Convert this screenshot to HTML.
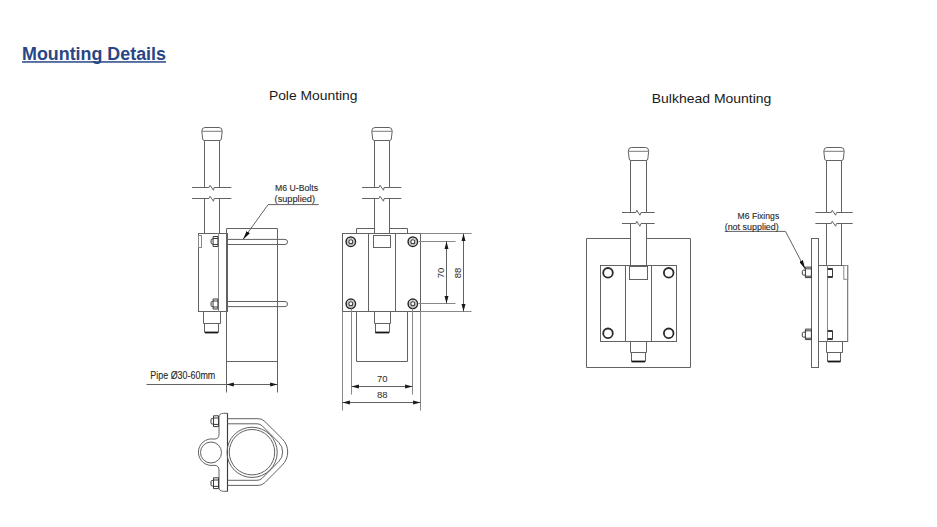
<!DOCTYPE html>
<html><head><meta charset="utf-8">
<style>
html,body{margin:0;padding:0;background:#fff;width:937px;height:527px;overflow:hidden}
svg{display:block}
.l{stroke:#626262;stroke-width:1;fill:none}
.d{stroke:#3a3a3a;stroke-width:1.15;fill:none}
.lt{stroke:#888;stroke-width:1;fill:none}
.t{font-family:"Liberation Sans",sans-serif;fill:#333}
.s{fill:#2a2a2a;stroke:#2a2a2a;stroke-width:0.12}
.dg{fill:#2a2a2a}
</style></head><body>
<svg width="937" height="527" viewBox="0 0 937 527">
<defs>
  <!-- cap centered at x=0, top y=0 -->
  <g id="cap">
    <path class="l" d="M-7.2,0 L7.2,0 Q10.2,0 10.2,3.8 L9.3,11.5 Q9.1,13 7.5,13 L-7.5,13 Q-9.1,13 -9.3,11.5 L-10.2,3.8 Q-10.2,0 -7.2,0 Z"/>
    <line x1="-10.1" y1="3.8" x2="10.1" y2="3.8" stroke="#7a7a7a" stroke-width="1"/>
  </g>
  <g id="brk1">
    <path class="l" d="M-19.9,0 L-3.1,0 L-2,-2.2 L1.5,2.7 L2.1,0 L19.4,0"/>
  </g>
  <g id="brk3">
    <path class="l" d="M-18.6,0 L-2.7,0 L-1.8,-2.2 L1.6,2.7 L2.5,0 L18.7,0"/>
  </g>
  <g id="brk2">
    <path class="l" d="M-16.5,0 L-2.6,0 L-1.7,-2.2 L1.4,2.7 L2.5,0 L16.2,0"/>
  </g>
  <marker id="ah" viewBox="0 0 9 4" refX="9" refY="2" markerWidth="9" markerHeight="4" orient="auto" markerUnits="userSpaceOnUse">
    <path d="M0,0 L9,2 L0,4 Z" fill="#111"/>
  </marker>
</defs>

<!-- Title -->
<text x="22" y="60" class="t" style="font-weight:bold;fill:#284685;font-size:17.6px" textLength="144" lengthAdjust="spacingAndGlyphs">Mounting Details</text>
<rect x="22" y="61.2" width="144" height="1.5" fill="#284685"/>

<text x="268.9" y="99.6" class="t" style="font-size:13.2px;fill:#1a1a1a" textLength="88.6" lengthAdjust="spacingAndGlyphs">Pole Mounting</text>
<text x="651.8" y="103.2" class="t" style="font-size:13.2px;fill:#1a1a1a" textLength="119.5" lengthAdjust="spacingAndGlyphs">Bulkhead Mounting</text>

<!-- ============ POLE SIDE VIEW ============ -->
<use href="#cap" x="212" y="127.5"/>
<path class="l" d="M204.5,140.5 V187.5 M219.5,140.5 V187.5 M204.5,198.5 V233.5 M219.5,198.5 V233.5"/>
<use href="#brk1" x="212" y="187.5"/>
<use href="#brk1" x="212" y="198.5"/>
<!-- pipe -->
<path class="l" d="M226.5,228.5 H277.5 V392.5 M226.5,228.5 V392.5 M226.5,361.5 H277.5"/>
<!-- bracket -->
<rect class="l" x="198.5" y="233.5" width="29" height="78"/>
<line class="lt" x1="218.5" y1="233.3" x2="218.5" y2="311.7"/>
<rect class="l" x="198.5" y="235.5" width="3" height="12" style="stroke:#8a8a8a"/>
<!-- nuts -->
<g id="nutS">
<path class="l" style="stroke:#3a3a3a" d="M213.1,236.5 H217.9 V246.5 H213.1 Z M213.1,238.5 H217.9 M213.1,244.5 H217.9 M213.1,239 H212.3 Q211.1,239 211.1,240.2 V242.8 Q211.1,244 212.3,244 H213.1"/>
</g>
<use href="#nutS" x="0" y="62.5"/>
<!-- u-bolts -->
<path class="l" d="M227,239.4 H285 A2.55,2.55 0 0 1 285,244.5 H227"/>
<path class="l" d="M227,301.5 H285 A2.55,2.55 0 0 1 285,306.6 H227"/>
<!-- connector -->
<path class="l" d="M203.5,311.5 V323.5 H220.5 V311.5 M204.5,323.5 V332.5 H218.5 V323.5"/>
<line class="d" x1="205" y1="332.5" x2="218" y2="332.5" style="stroke-width:1.8;stroke:#151515"/>
<!-- leader -->
<path class="l" d="M318.7,204.6 H268.1 L243,239.4" marker-end="url(#ah)"/>
<text x="275" y="191.2" class="t s" style="font-size:9.6px" textLength="43" lengthAdjust="spacingAndGlyphs">M6 U-Bolts</text>
<text x="274.6" y="201.6" class="t s" style="font-size:9px" textLength="40.4" lengthAdjust="spacingAndGlyphs">(supplied)</text>
<!-- pipe dim -->
<path class="l" d="M146.5,384.5 H277.5"/>
<path d="M226.5,384.5 L233.9,382.5 L233.9,386.5 Z M277.5,384.5 L270.1,382.5 L270.1,386.5 Z" fill="#1a1a1a"/>
<text x="150.3" y="379" class="t s" style="font-size:10px" textLength="65" lengthAdjust="spacingAndGlyphs">Pipe Ø30-60mm</text>

<!-- clamp top view -->
<path class="l" d="M227.4,413.3 H223.5 Q219,413.3 219,417.5 V434.5 Q219,439.1 214,439.1 A13.3,13.3 0 1 0 214,465.3 Q219,465.3 219,470 V487 Q219,491.3 223.5,491.3 H227.4"/>
<line class="d" x1="227.5" y1="413.2" x2="227.5" y2="491.5"/>
<circle class="l" cx="211" cy="452.5" r="10.5"/>
<circle class="l" cx="252.1" cy="452.35" r="25.1"/>
<circle class="l" cx="252" cy="452.2" r="22.7"/>
<path class="l" d="M227.4,418.7 H258.1 Q262.1,418.7 264.9,421.5 L282.25,438.85 A18.6,18.6 0 0 1 282.25,465.15 L264.9,482.6 Q262.1,485.4 258.1,485.4 H227.4"/>
<path class="l" d="M227.4,423.8 H257.1 Q260.1,423.8 262.25,425.9 L278.7,442.4 A13.6,13.6 0 0 1 278.7,461.6 L262.25,478.2 Q260.1,480.3 257.1,480.3 H227.4"/>
<g id="nutT">
<path class="l" style="stroke:#3a3a3a" d="M213.5,415.8 H218.5 V426.6 H213.5 Z M213.5,418 H218.5 M213.5,424.4 H218.5 M213.5,418.5 H212.2 Q211,418.5 211,419.7 V422.8 Q211,424 212.2,424 H213.5"/>
</g>
<use href="#nutT" x="0" y="62"/>

<!-- ============ POLE FRONT VIEW ============ -->
<use href="#cap" x="382" y="127.5"/>
<path class="l" d="M374.5,140.5 V187.5 M389.5,140.5 V187.5 M374.5,198.5 V233.5 M389.5,198.5 V233.5"/>
<use href="#brk1" x="382" y="187.5"/>
<use href="#brk1" x="382" y="198.5"/>
<path class="l" d="M356.5,233.5 V228.5 H374.5 M389.5,228.5 H407.5 V233.5"/>
<rect class="l" x="342.5" y="233.5" width="78" height="78"/>
<path class="l" d="M368.5,233.5 V311.5 M395.5,233.5 V311.5"/>
<rect class="l" x="373.5" y="235.5" width="17" height="12"/>
<g id="boltF">
<circle cx="350.8" cy="241.7" r="4.7" fill="none" stroke="#2a2a2a" stroke-width="1.5"/>
<circle cx="350.8" cy="241.7" r="3.4" fill="none" stroke="#aaa" stroke-width="0.8"/>
<circle cx="350.8" cy="241.7" r="2.0" fill="none" stroke="#3a3a3a" stroke-width="1.1"/>
</g>
<use href="#boltF" x="62" y="0"/>
<use href="#boltF" x="0" y="62.1"/>
<use href="#boltF" x="62" y="62.1"/>
<path class="l" d="M374.5,311.5 V323.5 H390.5 V311.5 M375.5,323.5 V332.5 H389.5 V323.5"/>
<line class="d" x1="375.3" y1="332.5" x2="389" y2="332.5" style="stroke-width:1.8;stroke:#151515"/>
<path class="l" d="M356.5,311.5 V361.5 H407.5 V311.5"/>
<!-- ext lines -->
<path class="lt" d="M342.5,311.5 V410.5 M420.5,311.5 V410.5 M351.5,308.5 V394.5 M412.5,308.5 V394.5"/>
<path class="l" d="M351.5,386.5 H412.5 M342.5,402.5 H420.5"/>
<path d="M351.5,386.5 L358.9,384.5 L358.9,388.5 Z M412.5,386.5 L405.1,384.5 L405.1,388.5 Z M342.5,402.5 L349.9,400.5 L349.9,404.5 Z M420.5,402.5 L413.1,400.5 L413.1,404.5 Z" fill="#1a1a1a"/>
<text x="382.2" y="382.3" class="t dg" text-anchor="middle" style="font-size:9.5px">70</text>
<text x="382.2" y="398.3" class="t dg" text-anchor="middle" style="font-size:9.5px">88</text>
<path class="lt" d="M420.5,233.5 H471.5 M418.5,241.5 H455.5 M418.5,303.5 H455.5 M420.5,311.5 H471.5"/>
<path class="l" d="M446.5,241.5 V303.5 M463.5,233.5 V311.5"/>
<path d="M446.5,241.5 L444.5,248.9 L448.5,248.9 Z M446.5,303.5 L444.5,296.1 L448.5,296.1 Z M463.5,233.5 L461.5,240.9 L465.5,240.9 Z M463.5,311.5 L461.5,304.1 L465.5,304.1 Z" fill="#1a1a1a"/>
<text x="0" y="0" class="t dg" text-anchor="middle" style="font-size:9.5px" transform="translate(443.8,273) rotate(-90)">70</text>
<text x="0" y="0" class="t dg" text-anchor="middle" style="font-size:9.5px" transform="translate(460.5,273) rotate(-90)">88</text>

<!-- ============ BULKHEAD FRONT ============ -->
<use href="#cap" x="638.5" y="147.5"/>
<path class="l" d="M630.5,160.5 V212.5 M646.5,160.5 V212.5 M630.5,223.5 V266.5 M646.5,223.5 V266.5"/>
<use href="#brk2" x="638.5" y="212.5"/>
<use href="#brk2" x="638.5" y="223.5"/>
<path class="l" d="M630.5,238.5 H586.5 V367.5 H690.5 V238.5 H646.5"/>
<rect class="l" x="600.5" y="265.5" width="76" height="76"/>
<path class="l" d="M625.5,265.5 V341.5 M651.5,265.5 V341.5"/>
<rect class="l" x="629.5" y="266.5" width="18" height="13"/>
<g fill="none" stroke="#2a2a2a" stroke-width="1.8">
<circle cx="608" cy="272.8" r="4.8"/><circle cx="668.7" cy="272.8" r="4.8"/>
<circle cx="608" cy="333.3" r="4.8"/><circle cx="668.7" cy="333.3" r="4.8"/>
</g>
<path class="l" d="M630.5,341.5 V352.5 H646.5 V341.5 M631.5,352.5 V361.5 H645.5 V352.5"/>
<line class="d" x1="631.6" y1="361.5" x2="645" y2="361.5" style="stroke-width:1.8;stroke:#151515"/>

<!-- ============ BULKHEAD SIDE ============ -->
<use href="#cap" x="834" y="147.5"/>
<path class="l" d="M826.5,160.5 V212.5 M841.5,160.5 V212.5 M826.5,223.5 V265.5 M841.5,223.5 V265.5"/>
<use href="#brk3" x="834" y="212.5"/>
<use href="#brk3" x="834" y="223.5"/>
<rect class="l" x="811.5" y="238.5" width="7" height="129"/>
<rect class="l" x="818.5" y="265.5" width="29.2" height="76"/>
<line class="lt" x1="827.5" y1="265.3" x2="827.5" y2="341.7"/>
<rect class="l" x="843.8" y="265.5" width="3.9" height="13.8" style="stroke:#8a8a8a"/>
<g id="nutB">
<path class="l" style="stroke:#3a3a3a" d="M805.4,267.1 H811.4 V277.6 H805.4 Z M805.4,268.8 H811.4 M805.4,276.2 H811.4 M805.4,270.2 H803.6 Q802.3,270.2 802.3,271.5 V273.8 Q802.3,275.1 803.6,275.1 H805.4"/>
<path class="l" style="stroke:#3a3a3a" d="M827.5,268.5 H832.5 V277.5 H827.5 M827.5,269.5 H832.5 M827.5,276.5 H832.5"/>
</g>
<use href="#nutB" x="0" y="62"/>
<path class="l" d="M826.5,341.5 V352.5 H842.5 V341.5 M827.5,352.5 V361.5 H840.5 V352.5"/>
<line class="d" x1="827.8" y1="361.5" x2="840.5" y2="361.5" style="stroke-width:1.8;stroke:#151515"/>
<path class="l" d="M724.7,231.4 H785.5 L805.2,269" marker-end="url(#ah)"/>
<text x="737.5" y="218.5" class="t s" style="font-size:9.4px" textLength="41.7" lengthAdjust="spacingAndGlyphs">M6 Fixings</text>
<text x="724.7" y="229.7" class="t s" style="font-size:9px" textLength="54.1" lengthAdjust="spacingAndGlyphs">(not supplied)</text>
</svg>
</body></html>
